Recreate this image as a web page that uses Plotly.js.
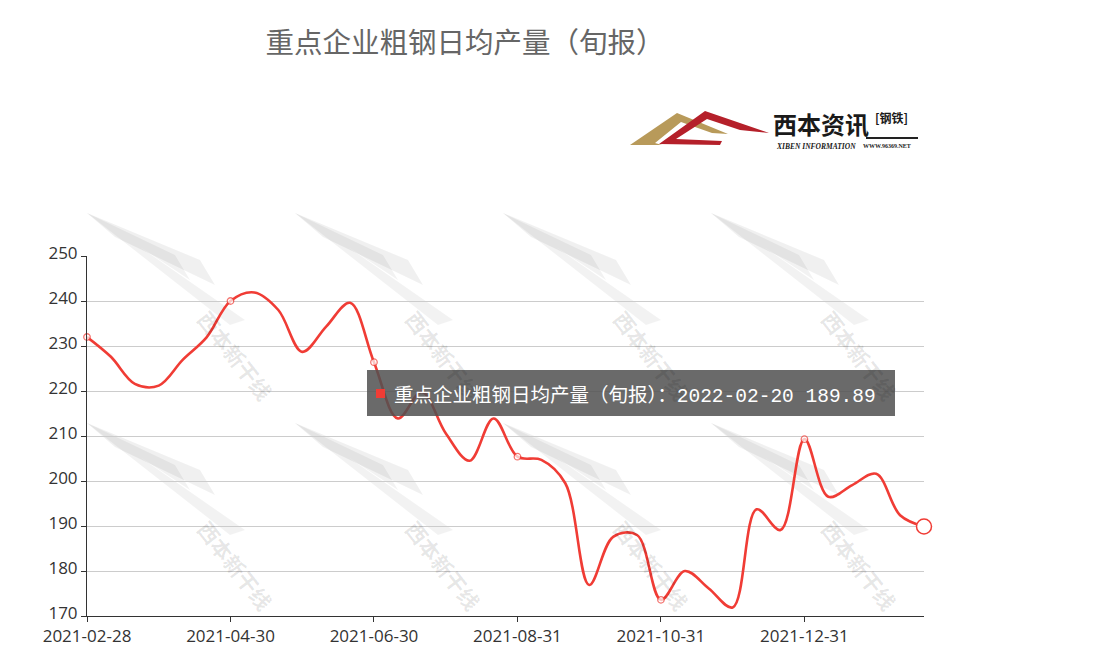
<!DOCTYPE html>
<html>
<head>
<meta charset="utf-8">
<script src="https://cdn.plot.ly/plotly-3.0.1.min.js"></script>
<style>html,body{margin:0;padding:0;background:#fff;}#chart{width:1094px;height:663px;}</style>
</head>
<body>
<div id="chart"></div>
<script>
const seriesName = '重点企业粗钢日均产量（旬报）';
const dates = ['2021-02-28','2021-03-10','2021-03-20','2021-03-31','2021-04-10','2021-04-20','2021-04-30',
  '2021-05-10','2021-05-20','2021-05-31','2021-06-10','2021-06-20','2021-06-30',
  '2021-07-10','2021-07-20','2021-07-31','2021-08-10','2021-08-20','2021-08-31',
  '2021-09-10','2021-09-20','2021-09-30','2021-10-10','2021-10-20','2021-10-31',
  '2021-11-10','2021-11-20','2021-11-30','2021-12-10','2021-12-20','2021-12-31',
  '2022-01-10','2022-01-20','2022-01-31','2022-02-10','2022-02-20'];
const values = [232.0,227.6,221.6,221.2,226.9,231.9,240.0,
  241.9,238.0,228.7,234.3,239.6,226.4,
  213.9,219.8,210.6,204.5,213.9,205.4,
  204.7,199.5,176.9,187.6,188.0,173.6,
  180.0,176.1,171.9,193.7,189.1,209.3,
  196.5,199.1,201.6,192.4,189.89];
const tickLabels = ['2021-02-28','2021-04-30','2021-06-30','2021-08-31','2021-10-31','2021-12-31'];

const RED = '#f03c35';
const FONT = '"Noto Sans CJK SC", "Noto Sans", sans-serif';
const TICKFONT = '"Open Sans", "Noto Sans", sans-serif';

// plot-area geometry (pixels) for layout decorations
const L = 87, R = 924, T = 256, B = 616;
const px = x => (x - L) / (R - L);
const py = y => (B - y) / (B - T);
const pt = (x, y) => px(x) + ',' + py(y);
const poly = pts => 'M' + pts.map(p => pt(p[0], p[1])).join(' L') + ' Z';

const markerSizes = dates.map(d => (tickLabels.indexOf(d) >= 0 ? 6.5 : 0));

const traces = [
  {
    x: dates, y: values, type: 'scatter', mode: 'lines+markers', name: seriesName,
    line: {color: RED, width: 2.6, shape: 'spline', smoothing: 1},
    marker: {size: markerSizes, color: '#fff', line: {color: RED, width: 1.3}},
    hoverinfo: 'skip', showlegend: false, cliponaxis: false
  },
  {
    x: [dates[dates.length - 1]], y: [values[values.length - 1]], type: 'scatter', mode: 'markers',
    marker: {size: 15, color: '#fff', line: {color: RED, width: 1.5}},
    hoverinfo: 'skip', showlegend: false, cliponaxis: false
  }
];

// watermark tiles
const annotations = [];
const shapes = [];
const tileXs = [235, 443, 651, 859];
const tileYs = [355, 565];
tileYs.forEach(ty => tileXs.forEach(tx => {
  annotations.push({
    xref: 'paper', yref: 'paper', x: px(tx), y: py(ty), xanchor: 'center', yanchor: 'middle',
    text: '<b>西本新干线</b>', showarrow: false,
    textangle: 52, font: {family: FONT, size: 21, color: 'rgba(0,0,0,0.10)'}
  });
  shapes.push({
    type: 'path', xref: 'paper', yref: 'paper', layer: 'below',
    path: poly([[tx - 148, ty - 142], [tx - 60, ty - 100], [tx - 45, ty - 75], [tx - 95, ty - 108], [tx + 10, ty - 35], [tx - 5, ty - 30]]),
    fillcolor: 'rgba(0,0,0,0.05)', line: {width: 0}
  });
  shapes.push({
    type: 'path', xref: 'paper', yref: 'paper', layer: 'below',
    path: poly([[tx - 148, ty - 142], [tx - 120, ty - 118], [tx - 20, ty - 70], [tx - 35, ty - 95]]),
    fillcolor: 'rgba(0,0,0,0.06)', line: {width: 0}
  });
}));

// logo
shapes.push({
  type: 'path', xref: 'paper', yref: 'paper',
  path: poly([[630, 145], [677, 113], [728, 134], [712, 133], [681, 122], [655, 143], [662, 145]]),
  fillcolor: '#b89a5a', line: {width: 0}
});
shapes.push({
  type: 'path', xref: 'paper', yref: 'paper',
  path: poly([[659, 144], [705, 111], [769, 133], [740, 130], [707, 119], [676, 139], [722, 141], [720, 145]]),
  fillcolor: '#b5202a', line: {width: 0}
});
shapes.push({
  type: 'line', xref: 'paper', yref: 'paper', x0: px(866), x1: px(918), y0: py(138), y1: py(138),
  line: {color: '#222', width: 2}
});
annotations.push({xref: 'paper', yref: 'paper', x: px(771), y: py(123), xanchor: 'left', yanchor: 'middle',
  text: '<b>西本资讯</b>', showarrow: false, font: {family: FONT, size: 24, color: '#1a1a1a'}});
annotations.push({xref: 'paper', yref: 'paper', x: px(873), y: py(117), xanchor: 'left', yanchor: 'middle',
  text: '<b>[钢铁]</b>', showarrow: false, font: {family: FONT, size: 12, color: '#1a1a1a'}});
annotations.push({xref: 'paper', yref: 'paper', x: px(774), y: py(146), xanchor: 'left', yanchor: 'middle',
  text: '<b><i>XIBEN INFORMATION</i></b>', showarrow: false, font: {family: 'Liberation Serif, serif', size: 7.5, color: '#1a1a1a'}});
annotations.push({xref: 'paper', yref: 'paper', x: px(861), y: py(146), xanchor: 'left', yanchor: 'middle',
  text: '<b>WWW.96369.NET</b>', showarrow: false, font: {family: 'Liberation Serif, serif', size: 6, color: '#1a1a1a'}});

// tooltip box (background)
shapes.push({
  type: 'rect', xref: 'paper', yref: 'paper', x0: px(367), x1: px(895), y0: py(370), y1: py(416),
  fillcolor: 'rgba(80,80,80,0.85)', line: {width: 0}
});
shapes.push({
  type: 'rect', xref: 'paper', yref: 'paper', x0: px(376), x1: px(385), y0: py(389), y1: py(398),
  fillcolor: RED, line: {width: 0}
});
annotations.push({
  xref: 'paper', yref: 'paper', x: px(392), y: py(393), xanchor: 'left', yanchor: 'middle',
  text: seriesName + '：<span style="font-family:Liberation Mono, DejaVu Sans Mono, monospace">' + dates[dates.length - 1] + ' ' + values[values.length - 1].toFixed(2) + '</span>',
  showarrow: false, font: {family: FONT, size: 19.5, color: '#fff'}, align: 'left'
});

const layout = {
  width: 1094, height: 663,
  margin: {l: L, r: 1094 - R, t: T, b: 663 - B, pad: 0},
  paper_bgcolor: '#fff', plot_bgcolor: 'rgba(0,0,0,0)',
  font: {family: FONT, color: '#333'},
  title: {text: seriesName, x: 465 / 1094, xanchor: 'center', y: 1 - 43 / 663, yanchor: 'middle',
    font: {family: FONT, size: 28.5, color: '#666'}},
  xaxis: {
    type: 'category', categoryorder: 'array', categoryarray: dates,
    range: [0, dates.length - 1], tickvals: tickLabels, ticktext: tickLabels,
    showgrid: false, zeroline: false, showline: true, linecolor: '#333', linewidth: 1,
    ticks: 'outside', ticklen: 5, tickcolor: '#333', tickfont: {family: TICKFONT, size: 17, color: '#333'}
  },
  yaxis: {
    range: [170, 250], dtick: 10, tick0: 170,
    showgrid: true, gridcolor: '#ccc', gridwidth: 1, zeroline: false,
    showline: true, linecolor: '#333', linewidth: 1, ticklabelshift: -3,
    ticks: 'outside', ticklen: 5, tickcolor: '#333', tickfont: {family: TICKFONT, size: 17, color: '#333'}
  },
  shapes: shapes,
  annotations: annotations,
  showlegend: false
};

Plotly.newPlot('chart', traces, layout, {displayModeBar: false, staticPlot: true});
</script>
</body>
</html>
